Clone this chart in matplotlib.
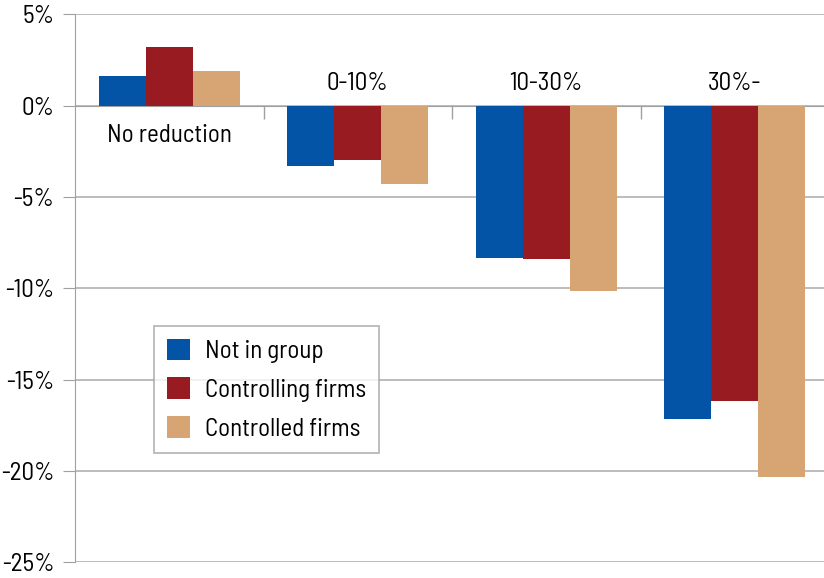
import numpy as np
import matplotlib.pyplot as plt
from matplotlib.ticker import FuncFormatter

categories = ["No reduction", "0-10%", "10-30%", "30%-"]
series_names = ["Not in group", "Controlling firms", "Controlled firms"]
not_in_group = [1.6, -3.3, -8.35, -17.15]
controlling = [3.2, -2.95, -8.4, -16.15]
controlled = [1.9, -4.3, -10.15, -20.35]
colors = ["#0354A6", "#971B20", "#D7A474"]

plt.rcParams['font.family'] = ['Barlow Semi Condensed', 'Barlow', 'DejaVu Sans']

fig = plt.figure(figsize=(8.24, 5.78), dpi=100)
ax = fig.add_axes([75 / 824, 15.7 / 578, 754 / 824, 548 / 578])

x = np.arange(len(categories))
w = 0.25
for i, (vals, name) in enumerate(zip([not_in_group, controlling, controlled], series_names)):
    ax.bar(x + (i - 1) * w, vals, w, color=colors[i], label=name, zorder=3)

ax.set_xlim(-0.5, len(categories) - 0.5)
ax.set_ylim(-25, 5)
ax.set_yticks(np.arange(-25, 6, 5))
ax.yaxis.set_major_formatter(FuncFormatter(lambda v, p: f"{v:.0f}%"))
ax.tick_params(axis='y', length=9, color='#a0a0a0', labelsize=18, pad=6)
ax.grid(axis='y', color='#b0b0b0', linewidth=1.2, zorder=0)

# category axis sits on the zero line
ax.spines['bottom'].set_position(('data', 0))
ax.spines['bottom'].set_color('#a0a0a0')
ax.spines['left'].set_color('#a0a0a0')
ax.spines['top'].set_visible(False)
ax.spines['right'].set_visible(False)
ax.set_xticks(x[:-1] + 0.5)
ax.set_xticklabels([])
ax.tick_params(axis='x', direction='out', length=9, color='#a0a0a0', width=1)

lows = np.minimum.reduce([not_in_group, controlling, controlled])
for xi, cat, lo in zip(x, categories, lows):
    if lo > 0:
        ax.text(xi, -1.65, cat, ha='center', va='center', fontsize=18)
    else:
        ax.text(xi, 1.2, cat, ha='center', va='center', fontsize=18)

leg = ax.legend(loc='upper left', bbox_to_anchor=(79 / 754, (562.3 - 326) / 548),
                fontsize=18, frameon=True, fancybox=False, edgecolor='#a0a0a0',
                handlelength=0.95, handleheight=0.95, handletextpad=0.6,
                labelspacing=0.58, borderpad=0.5, borderaxespad=0)
leg.get_frame().set_linewidth(1.2)

plt.savefig("out.png", dpi=100)
